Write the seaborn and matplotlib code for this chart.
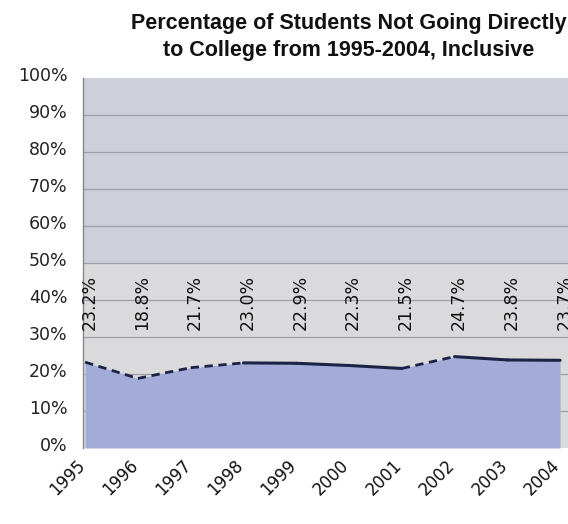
import matplotlib
matplotlib.use("Agg")
import matplotlib.pyplot as plt
import matplotlib.transforms as mtransforms
from matplotlib import font_manager
import seaborn as sns
import pandas as pd
import numpy as np

years = ["1995", "1996", "1997", "1998", "1999", "2000", "2001", "2002", "2003", "2004"]
pct = [23.2, 18.8, 21.7, 23.0, 22.9, 22.3, 21.5, 24.7, 23.8, 23.7]
y_ticks = [0, 10, 20, 30, 40, 50, 60, 70, 80, 90, 100]
y_labels = [f"{v}%" for v in y_ticks]
title = "Percentage of Students Not Going Directly\nto College from 1995-2004, Inclusive"

df = pd.DataFrame({"idx": np.arange(len(years)), "year": years, "pct": pct})

sns.set_theme(style="white")
plt.rcParams["font.family"] = ["DejaVu Sans"]

W, H = 568, 524
fig = plt.figure(figsize=(W / 100, H / 100), dpi=100)
left, right, top, bottom = 83, 568, 78, 448
ax = fig.add_axes([left / W, 1 - bottom / H, (right - left) / W, (bottom - top) / H])

ax.set_facecolor("#dadadc")
ax.axhspan(50, 100, color="#cdd0da", zorder=0, lw=0)
ax.set_xlim(-0.04, 9.15)
ax.set_ylim(0, 100)

for v in y_ticks[1:-1]:
    ax.axhline(v, color="#9c9ea8", lw=0.9, zorder=1)

ax.fill_between(df["idx"], 0, df["pct"], color="#a3acd8", zorder=2, lw=0)

# line: dashed on sloping segments, solid on flat ones
for k in range(len(df) - 1):
    seg = df.iloc[k:k + 2]
    steep = abs(seg["pct"].iloc[1] - seg["pct"].iloc[0]) > 1.0
    sns.lineplot(data=seg, x="idx", y="pct", ax=ax, color="#1c2246",
                 lw=2.2 if not steep else 2.0,
                 linestyle=(0, (3, 2)) if steep else "-", zorder=3)

for i, v in zip(df["idx"], df["pct"]):
    ax.text(i + 0.08, 32, f"{v:.1f}%", rotation=90, ha="center", va="bottom",
            fontsize=12.5, color="#111111", zorder=4)

ax.set_xticks(df["idx"])
ax.set_xticklabels(years, rotation=45, ha="right", rotation_mode="anchor",
                   fontsize=12, color="#111111")
ax.set_yticks(y_ticks)
ax.set_yticklabels(y_labels, fontsize=12.5, color="#222222")
ax.tick_params(axis="y", length=4, color="#888888", pad=7)
ax.tick_params(axis="x", length=0, pad=6)
ax.set_xlabel("")
ax.set_ylabel("")

# y labels sit slightly above their gridlines in the reference
off = mtransforms.ScaledTranslation(0, 4 / 100, fig.dpi_scale_trans)
for lab in ax.get_yticklabels():
    lab.set_transform(lab.get_transform() + off)
offx = mtransforms.ScaledTranslation(-9 / 100, 0, fig.dpi_scale_trans)
for lab in ax.get_xticklabels():
    lab.set_transform(lab.get_transform() + offx)

for s in ["top", "right", "bottom"]:
    ax.spines[s].set_visible(False)
ax.spines["left"].set_color("#888888")
ax.spines["left"].set_linewidth(1.0)

names = {f.name for f in font_manager.fontManager.ttflist}
if "Liberation Sans Narrow" in names:
    tfam, tsize, tls = ["Liberation Sans Narrow", "DejaVu Sans"], 19, 1.1
else:
    tfam, tsize, tls = ["Liberation Sans", "DejaVu Sans"], 15.5, 1.32

fig.text(349 / W, 1 - 37 / H, title, ha="center", va="center", fontsize=tsize,
         fontweight="bold", family=tfam, linespacing=tls, color="#111111")

fig.savefig("out.png", dpi=100)
